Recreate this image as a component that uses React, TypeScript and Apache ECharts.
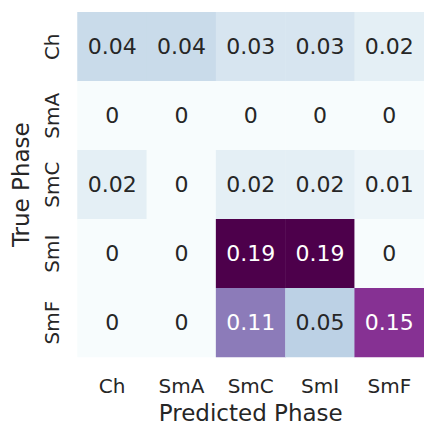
import React, { useEffect, useRef } from "react";
import * as echarts from "echarts";

// Confusion matrix: rows are the true phase, columns the predicted phase
const predictedPhases = ["Ch", "SmA", "SmC", "SmI", "SmF"];
const truePhases = ["Ch", "SmA", "SmC", "SmI", "SmF"];

const rowCh = [0.04, 0.04, 0.03, 0.03, 0.02];
const rowSmA = [0, 0, 0, 0, 0];
const rowSmC = [0.02, 0, 0.02, 0.02, 0.01];
const rowSmI = [0, 0, 0.19, 0.19, 0];
const rowSmF = [0, 0, 0.11, 0.05, 0.15];

const matrix = [rowCh, rowSmA, rowSmC, rowSmI, rowSmF];

// BuPu colour ramp
const buPu = [
  "#f7fcfd",
  "#e0ecf4",
  "#bfd3e6",
  "#9ebcda",
  "#8c96c6",
  "#8c6bb1",
  "#88419d",
  "#810f7c",
  "#4d004b",
];

const vMin = 0;
const vMax = 0.19;
const FONT = "DejaVu Sans";
const DARK_TEXT = "#262626";

// two significant digits, like the ".2g" format
const fmt = (v: number) => String(Number(v.toPrecision(2)));

export default function App() {
  const ref = useRef<HTMLDivElement>(null);

  useEffect(() => {
    if (!ref.current) return;
    const chart = echarts.init(ref.current, undefined, { renderer: "svg" });

    const data: any[] = [];
    matrix.forEach((row, r) => {
      row.forEach((v, c) => {
        data.push({
          value: [c, r, v],
          label: { color: v / vMax > 0.5 ? "#ffffff" : DARK_TEXT },
        });
      });
    });

    chart.setOption({
      animation: false,
      backgroundColor: "#ffffff",
      grid: { left: 77.5, top: 12.3, width: 352.5, height: 353.5 },
      xAxis: {
        type: "category",
        data: predictedPhases,
        position: "bottom",
        axisLine: { show: false },
        axisTick: { show: false },
        splitLine: { show: false },
        axisLabel: { fontFamily: FONT, fontSize: 20, color: DARK_TEXT, margin: 19 },
        name: "Predicted Phase",
        nameLocation: "middle",
        nameGap: 43,
        nameTextStyle: { fontFamily: FONT, fontSize: 23, color: DARK_TEXT },
      },
      yAxis: {
        type: "category",
        data: truePhases,
        inverse: true,
        axisLine: { show: false },
        axisTick: { show: false },
        splitLine: { show: false },
        axisLabel: {
          fontFamily: FONT,
          fontSize: 20,
          color: DARK_TEXT,
          rotate: 90,
          margin: 16,
          align: "center",
          verticalAlign: "bottom",
        },
        name: "True Phase",
        nameLocation: "middle",
        nameGap: 45,
        nameRotate: 90,
        nameTextStyle: { fontFamily: FONT, fontSize: 23, color: DARK_TEXT },
      },
      visualMap: {
        show: false,
        type: "continuous",
        min: vMin,
        max: vMax,
        dimension: 2,
        inRange: { color: buPu },
      },
      series: [
        {
          type: "heatmap",
          data,
          label: {
            show: true,
            fontFamily: FONT,
            fontSize: 22,
            formatter: (p: any) => fmt(p.value[2]),
          },
          itemStyle: { borderWidth: 0 },
          emphasis: { disabled: true },
        },
      ],
    });

    return () => chart.dispose();
  }, []);

  return <div ref={ref} style={{ width: 424, height: 429, position: "absolute", left: 0, top: 0 }} />;
}
